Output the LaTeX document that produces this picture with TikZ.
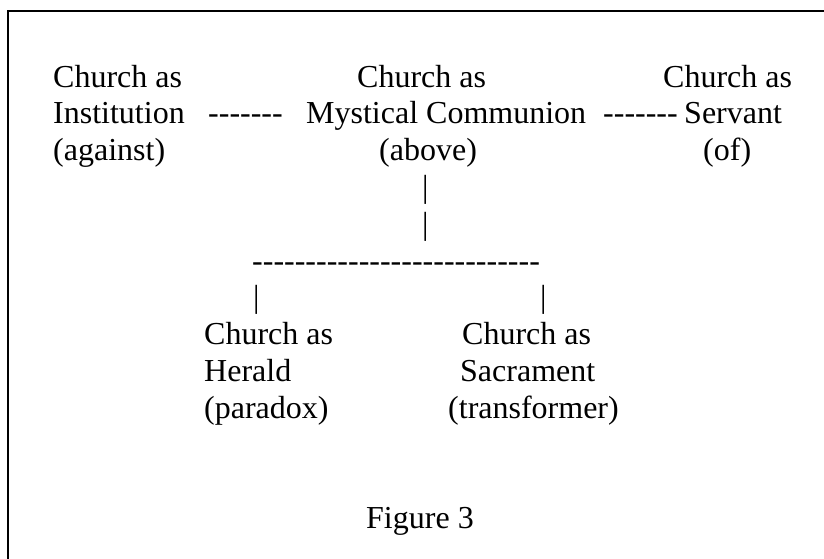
\documentclass[tikz,border=0pt]{standalone}
\usepackage{fontspec}
% plain hyphens stay hyphens: no TeX dash ligatures
\setmainfont{Liberation Serif}[Ligatures=TeXOff]
\begin{document}
\begin{tikzpicture}[x=1pt,y=-1pt,
  txt/.style={anchor=base west,inner sep=0pt,font=\fontsize{32}{36.8}\selectfont},
  frame/.style={line width=1.8pt,line cap=rect}]
\useasboundingbox (0,0) rectangle (824,558);
% baseline of text row k
\def\ry#1{87+36.8*#1}
% open frame: left and top edges
\coordinate (fbl) at (8.2,558);
\coordinate (ftl) at (8.2,11);
\coordinate (ftr) at (824,11);
\draw[frame] (fbl) -- (ftl) -- (ftr);
% top row: three models
\node[txt] (instA) at (53,{\ry{0}}) {Church as};
\node[txt] (instB) at (53,{\ry{1}}) {Institution};
\node[txt] (instC) at (53,{\ry{2}}) {(against)};
\node[txt] (dashL) at (208,{\ry{1}}) {-------};
\node[txt] (mystA) at (357,{\ry{0}}) {Church as};
\node[txt] (mystB) at (306,{\ry{1}}) {Mystical Communion};
\node[txt] (mystC) at (379,{\ry{2}}) {(above)};
\node[txt] (dashR) at (603,{\ry{1}}) {-------};
\node[txt] (servA) at (663,{\ry{0}}) {Church as};
\node[txt] (servB) at (684,{\ry{1}}) {Servant};
\node[txt] (servC) at (703,{\ry{2}}) {(of)};
% branch down from the centre
\node[txt] (barA) at (422,{\ry{3}}) {|};
\node[txt] (barB) at (422,{\ry{4}}) {|};
\node[txt] (dashH) at (252,{\ry{5}}) {---------------------------};
\node[txt] (barL) at (253,{\ry{6}}) {|};
\node[txt] (barR) at (540,{\ry{6}}) {|};
% lower row
\node[txt] (herA) at (204,{\ry{7}}) {Church as};
\node[txt] (herB) at (204,{\ry{8}}) {Herald};
\node[txt] (herC) at (204,{\ry{9}}) {(paradox)};
\node[txt] (sacA) at (462,{\ry{7}}) {Church as};
\node[txt] (sacB) at (460,{\ry{8}}) {Sacrament};
\node[txt] (sacC) at (448,{\ry{9}}) {(transformer)};
% caption
\node[txt] (cap) at (366,{\ry{12}}) {Figure 3};
\end{tikzpicture}
\end{document}
